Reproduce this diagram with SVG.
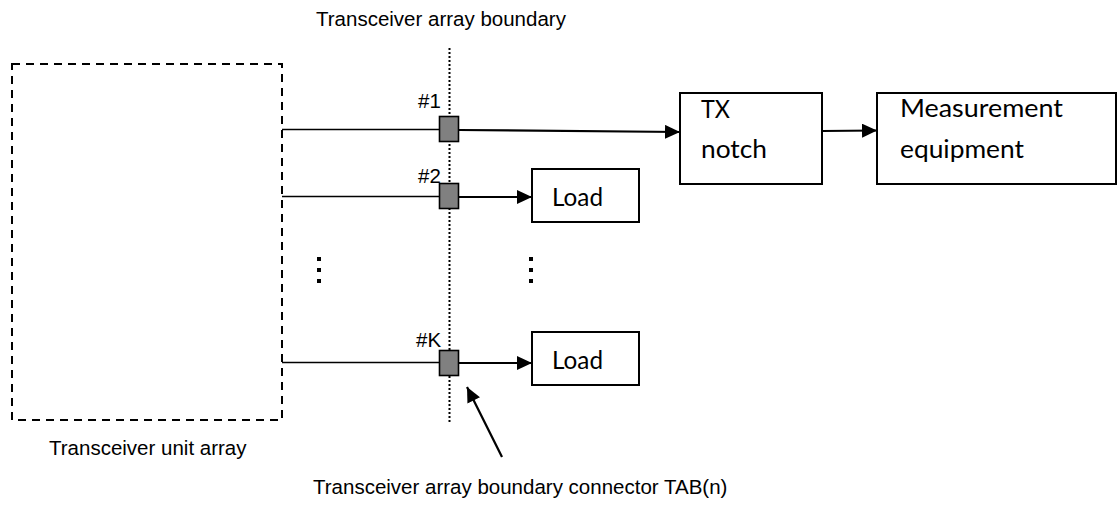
<svg xmlns="http://www.w3.org/2000/svg" width="1117" height="508" viewBox="0 0 1117 508">
<style>
.lbl{font-family:"Liberation Sans",Arial,sans-serif;font-size:20.5px;fill:#000}
.blk{font-family:Lato,"Open Sans",sans-serif;font-size:25px;fill:#000}
.box{fill:#fff;stroke:#000;stroke-width:2}
.thin{stroke:#000;stroke-width:1.4;fill:none}
.thick{stroke:#000;stroke-width:2.2;fill:none}
.conn{fill:#808080;stroke:#000;stroke-width:1.6}
.dot{fill:#000}
</style>
<defs>
<marker id="ah" markerWidth="15" markerHeight="14" refX="15" refY="7" orient="auto" markerUnits="userSpaceOnUse">
<path d="M0,0 L15,7 L0,14 Z" fill="#000"/>
</marker>
</defs>

<g id="unit-array">
<rect x="12" y="64" width="270" height="356" fill="none" stroke="#000" stroke-width="2" stroke-dasharray="8 6"/>
<text class="lbl" x="49" y="455">Transceiver unit array</text>
</g>

<g id="boundary">
<line x1="449.5" y1="48" x2="449.5" y2="424" stroke="#000" stroke-width="2" stroke-dasharray="2 2"/>
<text class="lbl" x="316" y="26">Transceiver array boundary</text>
</g>

<g id="connectors">
<line class="thin" x1="282" y1="129.5" x2="440" y2="129.5"/>
<line class="thin" x1="282" y1="196.5" x2="440" y2="196.5"/>
<line class="thin" x1="282" y1="362.5" x2="440" y2="362.5"/>
<line class="thick" x1="459" y1="130" x2="680" y2="132" marker-end="url(#ah)"/>
<line class="thick" x1="459" y1="197" x2="532" y2="197" marker-end="url(#ah)"/>
<line class="thick" x1="459" y1="363" x2="532" y2="363" marker-end="url(#ah)"/>
<line class="thick" x1="822" y1="131" x2="877" y2="130.5" marker-end="url(#ah)"/>
<line class="thick" x1="502" y1="457" x2="467" y2="387" marker-end="url(#ah)"/>
</g>

<g id="port1">
<rect class="conn" x="439.5" y="116.5" width="19" height="25"/>
<text class="lbl" x="418" y="108">#1</text>
</g>
<g id="port2">
<rect class="conn" x="439.5" y="183.5" width="19" height="25"/>
<text class="lbl" x="418" y="183">#2</text>
</g>
<g id="portK">
<rect class="conn" x="439.5" y="350.5" width="19" height="25"/>
<text class="lbl" x="416" y="347">#K</text>
</g>

<g id="ellipsis-left">
<rect class="dot" x="317" y="257" width="4" height="4"/>
<rect class="dot" x="317" y="268" width="4" height="4"/>
<rect class="dot" x="317" y="279" width="4" height="4"/>
</g>
<g id="ellipsis-right">
<rect class="dot" x="529" y="257" width="4" height="4"/>
<rect class="dot" x="529" y="268" width="4" height="4"/>
<rect class="dot" x="529" y="279" width="4" height="4"/>
</g>

<g id="load1">
<rect class="box" x="532" y="169" width="107" height="53"/>
<text class="blk" x="552" y="206" textLength="51" lengthAdjust="spacingAndGlyphs">Load</text>
</g>
<g id="load2">
<rect class="box" x="532" y="332" width="107" height="53"/>
<text class="blk" x="552" y="369" textLength="51" lengthAdjust="spacingAndGlyphs">Load</text>
</g>

<g id="tx-notch">
<rect class="box" x="680" y="93" width="142" height="91"/>
<text class="blk" x="701" y="118" textLength="29" lengthAdjust="spacingAndGlyphs">TX</text>
<text class="blk" x="701" y="158" textLength="66" lengthAdjust="spacingAndGlyphs">notch</text>
</g>

<g id="measurement">
<rect class="box" x="877" y="93" width="239" height="91"/>
<text class="blk" x="900" y="117" textLength="163" lengthAdjust="spacingAndGlyphs">Measurement</text>
<text class="blk" x="900" y="158" textLength="124" lengthAdjust="spacingAndGlyphs">equipment</text>
</g>

<g id="tab-label">
<text class="lbl" x="313" y="494">Transceiver array boundary connector TAB(n)</text>
</g>
</svg>
